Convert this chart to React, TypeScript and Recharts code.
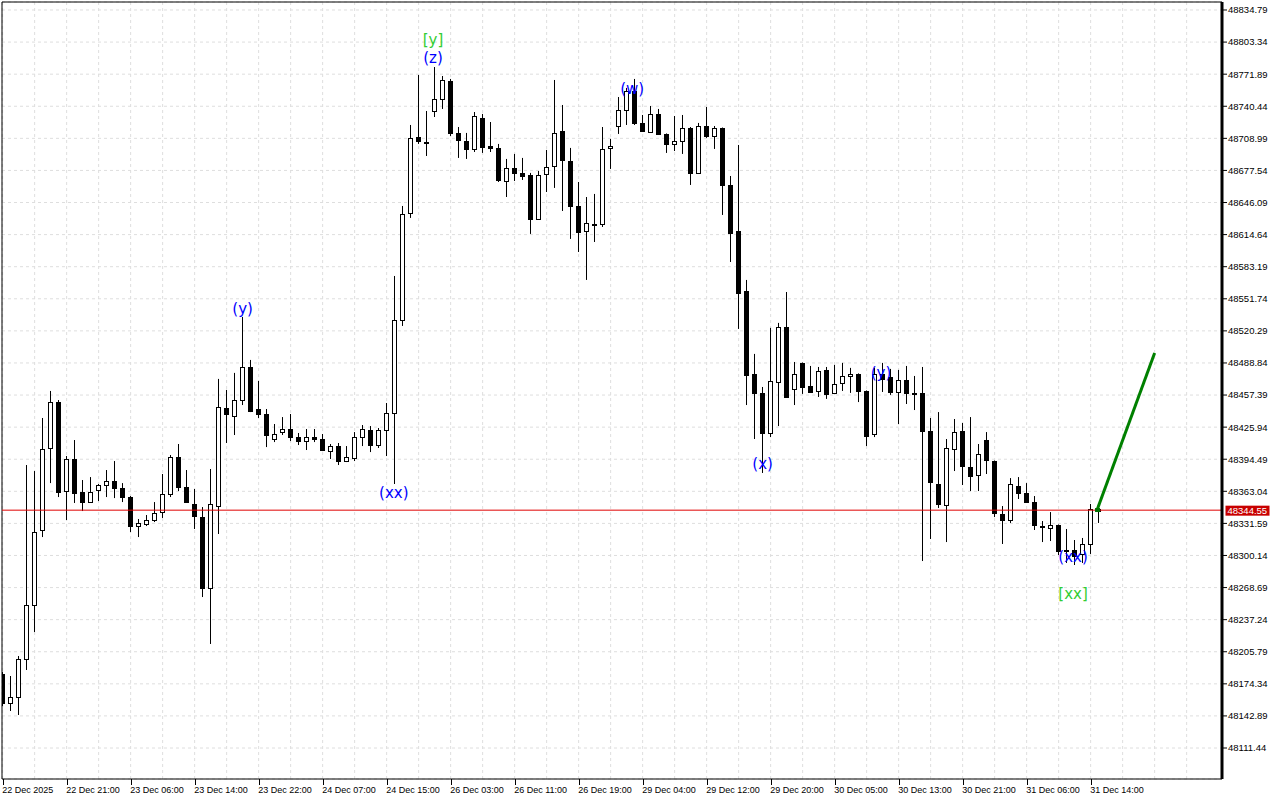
import React from 'react';
import {
  ComposedChart,
  Bar,
  Line,
  Scatter,
  XAxis,
  YAxis,
  CartesianGrid,
  ReferenceLine,
} from 'recharts';

// H1 candles, 22 Dec 2025 - 31 Dec 2025
const opens = [
  48184.0, 48155.6, 48161.4, 48198.7, 48251.6, 48325.1, 48405.5, 48450.5, 48363.3, 48394.7,
  48362.3, 48352.5, 48364.3, 48369.2, 48373.1, 48366.3, 48357.4, 48329.5, 48331.0, 48334.9,
  48342.7, 48360.4, 48396.6, 48367.2, 48350.6, 48337.8, 48268.3, 48348.6, 48444.7, 48436.8,
  48452.5, 48484.9, 48443.7, 48438.8, 48414.3, 48421.1, 48424.1, 48416.2, 48412.3, 48416.2,
  48414.3, 48402.5, 48407.4, 48392.7, 48395.7, 48416.2, 48423.1, 48408.4, 48423.1, 48439.8,
  48531.0, 48635.9, 48710.3, 48705.4, 48735.8, 48747.6, 48765.2, 48714.3, 48706.4, 48698.6,
  48729.0, 48701.0, 48699.6, 48667.2, 48680.0, 48675.1, 48673.1, 48630.0, 48674.1, 48681.9,
  48716.2, 48686.8, 48642.7, 48618.2, 48625.1, 48625.1, 48700.0, 48721.1, 48736.8, 48755.4,
  48724.1, 48715.2, 48732.9, 48713.3, 48703.5, 48706.4, 48719.2, 48675.1, 48721.1, 48711.3,
  48719.2, 48663.3, 48618.2, 48559.4, 48478.1, 48459.5, 48420.2, 48470.2, 48524.1, 48463.4,
  48488.9, 48466.3, 48461.4, 48482.0, 48459.5, 48469.2, 48476.1, 48478.1, 48461.4, 48419.2,
  48478.1, 48475.1, 48460.4, 48472.2, 48459.5, 48459.5, 48422.1, 48370.2, 48349.6, 48404.5,
  48422.1, 48386.8, 48379.0, 48413.3, 48392.7, 48340.8, 48334.9, 48368.2, 48361.4, 48352.5,
  48329.0, 48327.1, 48330.0, 48305.5, 48305.5, 48301.6, 48311.4, 48345.7,
];

const highs = [
  48185.9, 48182.0, 48201.6, 48388.8, 48382.9, 48434.9, 48461.4, 48452.5, 48397.6, 48413.3,
  48374.1, 48377.0, 48370.2, 48383.9, 48392.7, 48371.1, 48358.4, 48335.9, 48339.8, 48352.5,
  48380.0, 48398.6, 48409.4, 48383.9, 48365.3, 48347.6, 48384.9, 48473.2, 48462.4, 48479.1,
  48533.9, 48491.8, 48471.2, 48443.7, 48429.0, 48435.8, 48438.8, 48420.2, 48424.1, 48424.1,
  48419.2, 48409.4, 48410.4, 48407.4, 48421.1, 48428.0, 48427.0, 48425.1, 48449.6, 48574.1,
  48642.7, 48722.1, 48771.1, 48735.8, 48778.9, 48770.1, 48767.2, 48720.1, 48714.3, 48734.8,
  48732.9, 48725.0, 48703.5, 48688.8, 48693.7, 48689.8, 48675.1, 48677.0, 48697.6, 48766.2,
  48741.7, 48699.6, 48666.2, 48651.5, 48654.5, 48720.1, 48708.4, 48749.5, 48758.4, 48767.2,
  48731.9, 48740.7, 48737.8, 48713.8, 48730.9, 48731.9, 48720.1, 48724.1, 48739.7, 48721.1,
  48719.6, 48672.1, 48702.5, 48570.2, 48497.7, 48465.3, 48523.2, 48528.1, 48558.4, 48489.8,
  48489.3, 48485.9, 48484.9, 48484.9, 48486.9, 48488.9, 48484.0, 48478.6, 48461.9, 48484.0,
  48488.9, 48483.0, 48482.0, 48485.9, 48476.1, 48484.9, 48434.9, 48440.7, 48414.3, 48433.9,
  48430.0, 48435.8, 48409.4, 48421.1, 48393.2, 48348.6, 48376.0, 48377.0, 48371.1, 48358.4,
  48333.9, 48342.7, 48330.5, 48326.1, 48315.3, 48317.3, 48350.6, 48350.6,
];

const lows = [
  48152.6, 48147.7, 48143.8, 48187.9, 48225.1, 48318.2, 48371.1, 48357.4, 48334.9, 48351.6,
  48343.7, 48351.6, 48353.5, 48357.4, 48356.4, 48352.5, 48323.1, 48318.2, 48329.0, 48332.9,
  48336.9, 48357.4, 48363.3, 48352.0, 48326.1, 48259.4, 48213.4, 48321.2, 48410.4, 48418.2,
  48447.6, 48440.7, 48434.9, 48406.4, 48411.3, 48418.2, 48412.3, 48408.4, 48403.5, 48411.3,
  48402.5, 48394.7, 48388.8, 48391.7, 48392.7, 48407.4, 48401.5, 48405.5, 48397.6, 48370.2,
  48525.1, 48631.0, 48703.5, 48691.7, 48729.9, 48737.8, 48711.3, 48689.8, 48688.8, 48695.6,
  48694.7, 48695.6, 48666.2, 48651.5, 48667.2, 48668.2, 48615.3, 48629.5, 48656.4, 48660.4,
  48637.8, 48610.4, 48597.6, 48570.2, 48607.4, 48622.1, 48679.0, 48713.3, 48722.1, 48722.1,
  48715.2, 48714.3, 48712.8, 48694.7, 48696.6, 48693.7, 48663.3, 48674.6, 48709.4, 48698.6,
  48633.9, 48587.8, 48522.2, 48447.6, 48414.3, 48381.0, 48416.2, 48427.0, 48454.5, 48447.6,
  48458.5, 48459.9, 48455.5, 48453.6, 48458.5, 48461.4, 48459.5, 48450.5, 48407.4, 48416.2,
  48460.4, 48457.5, 48429.0, 48448.6, 48442.7, 48294.7, 48316.3, 48346.7, 48313.3, 48382.9,
  48369.2, 48363.3, 48363.3, 48380.0, 48337.8, 48311.4, 48332.0, 48355.5, 48352.0, 48325.1,
  48313.3, 48314.3, 48300.6, 48292.8, 48290.8, 48292.8, 48301.6, 48332.0,
];

const closes = [
  48155.6, 48161.4, 48198.7, 48251.6, 48323.1, 48404.5, 48450.5, 48362.3, 48394.7, 48361.4,
  48352.5, 48362.3, 48369.2, 48373.1, 48366.3, 48357.4, 48329.0, 48331.5, 48334.9, 48341.8,
  48360.4, 48396.6, 48367.2, 48352.5, 48338.8, 48268.3, 48350.6, 48445.6, 48438.8, 48452.5,
  48484.9, 48441.7, 48438.8, 48418.2, 48419.2, 48424.1, 48416.2, 48412.3, 48416.2, 48414.3,
  48403.5, 48407.4, 48392.7, 48396.6, 48416.2, 48424.1, 48408.4, 48423.1, 48439.8, 48531.0,
  48634.9, 48709.4, 48706.4, 48704.5, 48747.6, 48766.2, 48714.3, 48707.4, 48698.6, 48730.9,
  48700.5, 48699.6, 48668.2, 48680.0, 48675.1, 48672.1, 48630.0, 48673.1, 48680.9, 48714.3,
  48687.8, 48642.7, 48617.2, 48626.1, 48624.1, 48698.6, 48701.0, 48736.8, 48755.4, 48724.1,
  48716.2, 48732.9, 48713.3, 48703.5, 48706.4, 48719.2, 48675.1, 48721.1, 48711.3, 48719.2,
  48663.3, 48616.3, 48557.5, 48477.1, 48459.5, 48420.2, 48471.2, 48524.1, 48455.5, 48478.1,
  48465.3, 48460.4, 48481.0, 48458.5, 48468.3, 48476.1, 48477.6, 48461.4, 48417.2, 48478.1,
  48473.2, 48460.4, 48472.2, 48459.5, 48458.5, 48422.1, 48372.1, 48350.6, 48405.5, 48421.1,
  48387.8, 48378.0, 48399.6, 48393.7, 48341.8, 48334.9, 48370.2, 48361.4, 48352.5, 48330.0,
  48328.0, 48330.0, 48304.5, 48304.5, 48299.6, 48311.4, 48345.7, 48344.2,
];

// one time label every 8 bars
const timeLabels = [
  '22 Dec 2025', '22 Dec 21:00', '23 Dec 06:00', '23 Dec 14:00', '23 Dec 22:00',
  '24 Dec 07:00', '24 Dec 15:00', '26 Dec 03:00', '26 Dec 11:00', '26 Dec 19:00',
  '29 Dec 04:00', '29 Dec 12:00', '29 Dec 20:00', '30 Dec 05:00', '30 Dec 13:00',
  '30 Dec 21:00', '31 Dec 06:00', '31 Dec 14:00',
];

const priceTicks = [
  48111.44, 48142.89, 48174.34, 48205.79, 48237.24, 48268.69, 48300.14, 48331.59,
  48363.04, 48394.49, 48425.94, 48457.39, 48488.84, 48520.29, 48551.74, 48583.19,
  48614.64, 48646.09, 48677.54, 48708.99, 48740.44, 48771.89, 48803.34, 48834.79,
];

const lastPrice = 48344.55;

// wave marks: bar position, price, text
const waveIdx = [30, 53.8, 53.8, 78.7, 48.9, 95, 109.8, 133.8, 133.8];
const wavePrice = [48541.7, 48805.4, 48787.8, 48757.4, 48361.4, 48389.8, 48479.1, 48298.6, 48262.4];
const waveText = ['(y)', '[y]', '(z)', '(w)', '(xx)', '(x)', '(y)', '(xx)', '[xx]'];

// projection arrow
const arrowIdx = [136.8, 144.0];
const arrowPrice = [48344.7, 48498.6];

const X_DOMAIN = [-0.08, 152.42];
const Y_DOMAIN = [48081.06, 48842.63];

const candles = opens.map((o, i) => ({
  i,
  open: o,
  high: highs[i],
  low: lows[i],
  close: closes[i],
}));

const waves = waveText.map((t, k) => ({
  i: waveIdx[k],
  p: wavePrice[k],
  text: t,
  color: t.startsWith('[') ? '#32cd32' : '#0000ff',
}));

const arrow = arrowIdx.map((i, k) => ({ i, p: arrowPrice[k] }));

const gridIdx: number[] = [];
for (let i = 0; i <= 148; i += 4) gridIdx.push(i);

const font = '"Liberation Sans", Arial, sans-serif';

function Candle(props: any) {
  const { x, y, width, height, payload } = props;
  if (x == null || y == null) return null;
  const top = Math.min(y, y + height);
  const h = Math.abs(height);
  const { open, close, high, low } = payload;
  const k = h / (high - low);
  const py = (v: number) => top + (high - v) * k;
  const cx = Math.round(x + width / 2) + 0.5;
  const bTop = Math.round(py(Math.max(open, close))) + 0.5;
  const bBot = Math.round(py(Math.min(open, close))) + 0.5;
  const up = close >= open;
  return (
    <g>
      <line x1={cx} x2={cx} y1={top} y2={top + h} stroke="#000" strokeWidth={1} />
      <rect
        x={cx - 2}
        y={bTop}
        width={4}
        height={Math.max(bBot - bTop, 1)}
        fill={up ? '#fff' : '#000'}
        stroke="#000"
        strokeWidth={1}
      />
    </g>
  );
}

function TimeTick(props: any) {
  const { x, y, payload } = props;
  const v = payload.value;
  if (v % 8 !== 0 || timeLabels[v / 8] == null) return <g />;
  const bx = Math.round(x) + 0.5;
  return (
    <g>
      <line x1={bx} x2={bx} y1={y - 6} y2={y} stroke="#000" />
      <text x={x - 0.5} y={y + 8} fontSize={9} fontFamily={font} fill="#000" textAnchor="start">
        {timeLabels[v / 8]}
      </text>
    </g>
  );
}

function WaveMark(props: any) {
  const { cx, cy, payload } = props;
  return (
    <text
      x={cx}
      y={cy}
      dy="0.35em"
      textAnchor="middle"
      fontSize={15}
      fontFamily='"DejaVu Sans", sans-serif'
      fill={payload.color}
    >
      {payload.text}
    </text>
  );
}

function ArrowTip(props: any) {
  const { cx, cy, index } = props;
  if (index !== 0) return <g key={index} />;
  return <rect key={index} x={cx - 2} y={cy - 2} width={5} height={4} fill="#007000" />;
}

function PriceTag(props: any) {
  const vb = props.viewBox || {};
  const x = vb.x + vb.width;
  const y = vb.y;
  return (
    <g>
      <rect x={x + 3.5} y={y - 4.5} width={44} height={10} fill="#c80000" />
      <text x={x + 5.5} y={y + 3.5} fontSize={9.5} fontFamily={font} fill="#fff">
        {lastPrice.toFixed(2)}
      </text>
    </g>
  );
}

export default function App() {
  return (
    <div style={{ position: 'fixed', left: 0, top: 0, width: 1280, height: 800, background: '#fff' }}>
      <ComposedChart
        width={1280}
        height={800}
        data={candles}
        margin={{ top: 2, right: 0, bottom: 0, left: 2 }}
      >
        <CartesianGrid stroke="#dedede" strokeDasharray="3 3" />
        <XAxis
          dataKey="i"
          type="number"
          domain={X_DOMAIN}
          allowDataOverflow
          ticks={gridIdx}
          interval={0}
          height={21}
          tickSize={6}
          tickMargin={0}
          tickLine={false}
          axisLine={{ stroke: '#000' }}
          tick={<TimeTick />}
        />
        <XAxis xAxisId="o" dataKey="i" type="number" domain={X_DOMAIN} allowDataOverflow hide />
        <YAxis
          orientation="right"
          type="number"
          domain={Y_DOMAIN}
          allowDataOverflow
          ticks={priceTicks}
          interval={0}
          width={58}
          tickSize={5}
          tickMargin={1}
          tickFormatter={(v: number) => v.toFixed(2)}
          tick={{ fontSize: 9.5, fill: '#000', fontFamily: font }}
          tickLine={{ stroke: '#000' }}
          axisLine={{ stroke: '#000', strokeWidth: 3 }}
        />
        <ReferenceLine x={X_DOMAIN[0]} stroke="#000" ifOverflow="visible" />
        <ReferenceLine y={Y_DOMAIN[1]} stroke="#000" ifOverflow="visible" />
        <Bar
          dataKey={(d: any) => [d.low, d.high]}
          barSize={5}
          shape={<Candle />}
          isAnimationActive={false}
        />
        <ReferenceLine
          y={lastPrice}
          stroke="#e00000"
          strokeWidth={1}
          ifOverflow="visible"
          label={<PriceTag />}
        />
        <Line
          xAxisId="o"
          data={arrow}
          dataKey="p"
          stroke="#008000"
          strokeWidth={3}
          dot={<ArrowTip />}
          activeDot={false}
          isAnimationActive={false}
        />
        <Scatter
          xAxisId="o"
          data={waves}
          dataKey="p"
          shape={<WaveMark />}
          isAnimationActive={false}
        />
      </ComposedChart>
    </div>
  );
}
